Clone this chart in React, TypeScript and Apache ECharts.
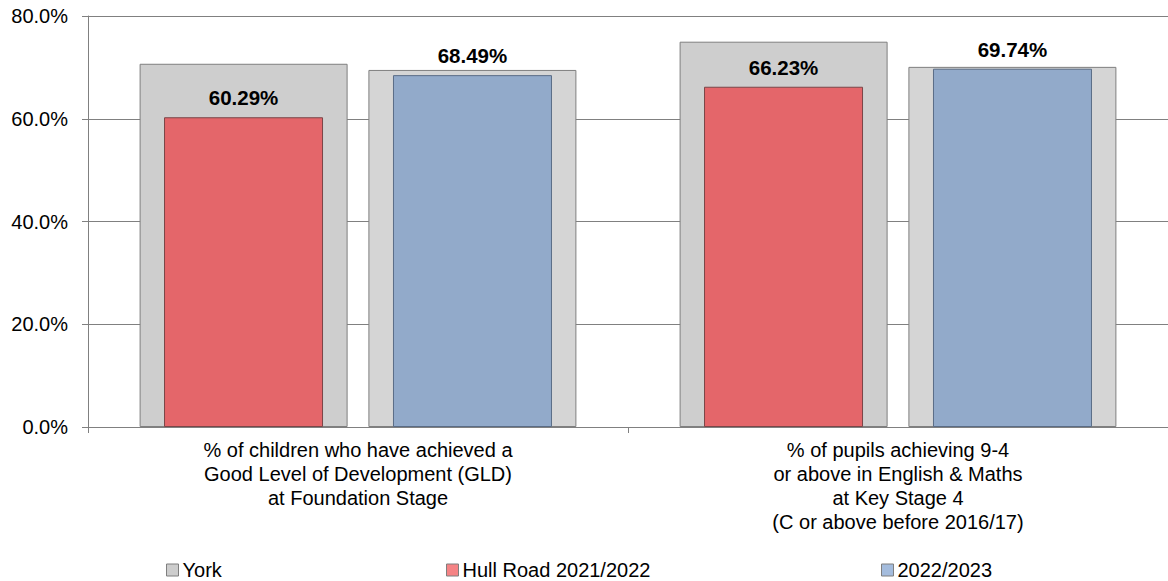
import React, { useEffect, useRef } from "react";
import * as echarts from "echarts";

const categories = [
  "% of children who have achieved a\nGood Level of Development (GLD)\nat Foundation Stage",
  "% of pupils achieving 9-4\nor above in English & Maths\nat Key Stage 4\n(C or above before 2016/17)",
];
const york2122 = [70.7, 75.0];
const york2223 = [69.5, 70.1];
const hullRoad2122 = [60.29, 66.23];
const hullRoad2223 = [68.49, 69.74];
const yTicks = [0, 20, 40, 60, 80];

export default function App() {
  const ref = useRef<HTMLDivElement>(null);
  useEffect(() => {
    if (!ref.current) return;
    const chart = echarts.init(ref.current, null, { renderer: "svg" });
    const font = "'Liberation Sans', Arial, sans-serif";
    const label = {
      show: true,
      position: "top",
      distance: 9,
      fontFamily: font,
      fontSize: 20.5,
      fontWeight: "bold",
      color: "#000",
      formatter: (p: any) => p.value.toFixed(2) + "%",
    };
    const legendBase = {
      top: 560,
      padding: 0,
      itemWidth: 12,
      itemHeight: 12,
      icon: "rect",
      textStyle: { fontSize: 20, color: "#000", fontFamily: font, padding: [0, 0, 0, -1] },
    };
    chart.setOption({
      animation: false,
      textStyle: { fontFamily: font },
      grid: { left: 88, right: 0, top: 16, bottom: 154, containLabel: false },
      legend: [
        {
          ...legendBase,
          data: [{ name: "York", itemStyle: { color: "#CDCDCD", borderColor: "#7f7f7f", borderWidth: 1 } }],
          left: 166,
        },
        {
          ...legendBase,
          data: [
            { name: "Hull Road 2021/2022", itemStyle: { color: "#F58385", borderColor: "#7f7f7f", borderWidth: 1 } },
          ],
          left: 446,
        },
        {
          ...legendBase,
          data: [{ name: "2022/2023", itemStyle: { color: "#A4BCDD", borderColor: "#7f7f7f", borderWidth: 1 } }],
          left: 881,
        },
      ],
      xAxis: [
        {
          type: "category",
          data: categories,
          axisLine: { show: true, lineStyle: { color: "#808080", width: 1 } },
          axisTick: { show: true, length: 6, lineStyle: { color: "#808080" } },
          axisLabel: {
            fontFamily: font,
            fontSize: 20,
            color: "#000",
            lineHeight: 24,
            margin: 11,
            interval: 0,
            align: "center",
          },
        },
        {
          type: "category",
          data: categories,
          show: false,
          position: "bottom",
        },
      ],
      yAxis: {
        type: "value",
        min: yTicks[0],
        max: yTicks[yTicks.length - 1],
        interval: 20,
        axisLine: { show: true, lineStyle: { color: "#808080" } },
        axisTick: { show: true, length: 6, lineStyle: { color: "#808080" } },
        splitLine: { show: true, lineStyle: { color: "#808080", width: 1 } },
        axisLabel: {
          fontFamily: font,
          fontSize: 20,
          color: "#000",
          margin: 20,
          formatter: (v: number) => v.toFixed(1) + "%",
        },
      },
      series: [
        {
          name: "York",
          type: "bar",
          xAxisIndex: 0,
          data: york2122,
          barWidth: 208,
          barGap: "10%",
          itemStyle: { color: "#CECECE", borderColor: "#7f7f7f", borderWidth: 1 },
          z: 2,
        },
        {
          name: "York",
          type: "bar",
          xAxisIndex: 0,
          data: york2223,
          barWidth: 208,
          barGap: "10%",
          itemStyle: { color: "#D5D5D5", borderColor: "#7f7f7f", borderWidth: 1 },
          z: 2,
        },
        {
          name: "Hull Road 2021/2022",
          type: "bar",
          xAxisIndex: 1,
          data: hullRoad2122,
          barWidth: 159,
          barGap: "44%",
          itemStyle: { color: "#E4666A", borderColor: "#7a4648", borderWidth: 1 },
          label,
          z: 3,
        },
        {
          name: "2022/2023",
          type: "bar",
          xAxisIndex: 1,
          data: hullRoad2223,
          barWidth: 159,
          barGap: "44%",
          itemStyle: { color: "#92AACA", borderColor: "#5a6c86", borderWidth: 1 },
          label,
          z: 3,
        },
      ],
    });
    return () => chart.dispose();
  }, []);
  return (
    <div
      ref={ref}
      style={{ position: "absolute", left: 0, top: 0, width: 1168, height: 581, background: "#fff" }}
    />
  );
}
